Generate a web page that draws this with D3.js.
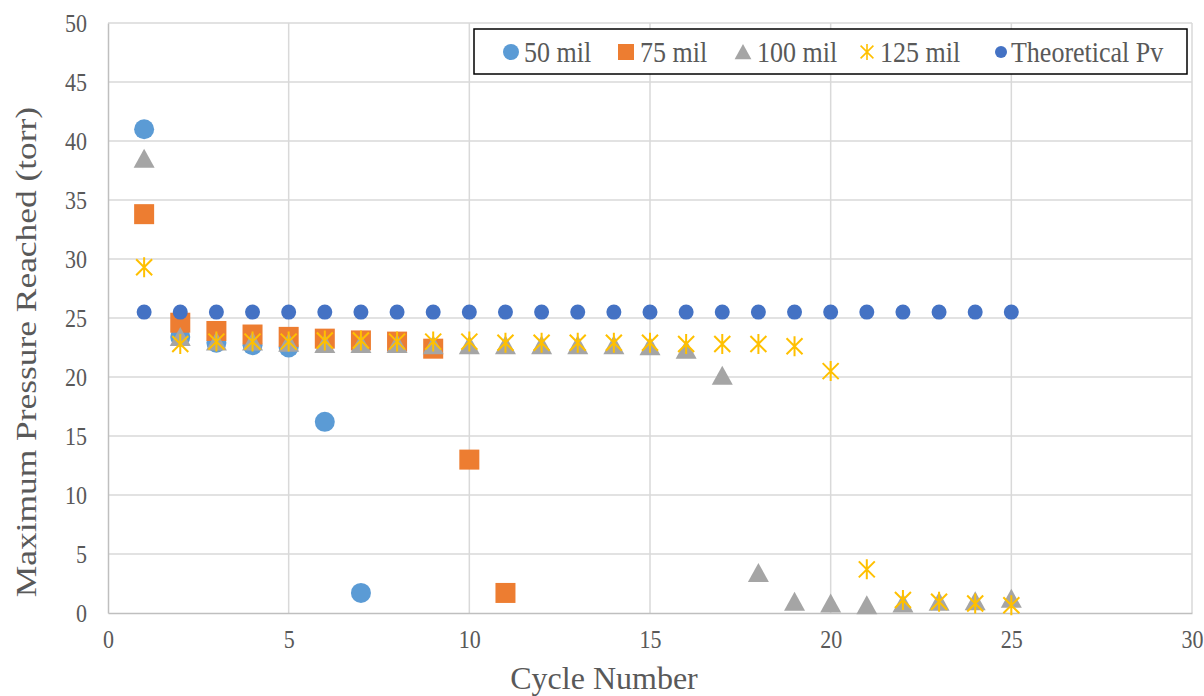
<!DOCTYPE html>
<html>
<head>
<meta charset="utf-8">
<script src="https://cdn.jsdelivr.net/npm/d3@7"></script>
<style>
  body { margin: 0; background: #fff; }
  text { font-family: "Liberation Serif", "Times New Roman", serif; }
</style>
</head>
<body>
<div class="chart"></div>
<script>
// data
var cycles = d3.range(1, 26);
var mil50 = [41.0, 23.4, 22.9, 22.7, 22.5, 16.2, 1.7];
var mil75 = [33.8, 24.6, 23.9, 23.6, 23.4, 23.25, 23.1, 23.0, 22.4, 13.0, 1.7];
var mil100 = [38.5, 23.4, 23.0, 23.0, 22.9, 22.8, 22.8, 22.8, 22.7, 22.7, 22.7, 22.7, 22.7, 22.7, 22.6, 22.3, 20.1,
  3.4, 0.95, 0.8, 0.65, 0.8, 0.95, 1.0, 1.2];
var mil125 = [29.3, 22.8, 23.0, 23.0, 23.0, 23.1, 23.1, 23.0, 23.0, 23.0, 22.9, 22.9, 22.9, 22.9, 22.9, 22.8, 22.8,
  22.8, 22.6, 20.5, 3.7, 1.1, 0.95, 0.8, 0.65];
var theoPv = cycles.map(function () { return 25.5; });

var xTicks = [0, 5, 10, 15, 20, 25, 30];
var yTicks = [0, 5, 10, 15, 20, 25, 30, 35, 40, 45, 50];

var series = [
  { name: "50 mil", values: mil50, color: "#5B9BD5", shape: "circle" },
  { name: "75 mil", values: mil75, color: "#ED7D31", shape: "square" },
  { name: "100 mil", values: mil100, color: "#A5A5A5", shape: "triangle" },
  { name: "125 mil", values: mil125, color: "#FFC000", shape: "star" },
  { name: "Theoretical Pv", values: theoPv, color: "#4472C4", shape: "dot" }
];

//Chart parameters
var svgWidth = 1204;
var svgHeight = 696;
var margin = { top: 23, right: 12, bottom: 83, left: 108 };
var width = svgWidth - margin.left - margin.right;
var height = svgHeight - margin.top - margin.bottom;

var svg = d3.select(".chart").append("svg")
  .attr("width", svgWidth)
  .attr("height", svgHeight);

var chartGroup = svg.append("g")
  .attr("transform", `translate(${margin.left}, ${margin.top})`);

var xScale = d3.scaleLinear().domain([0, 30]).range([0, width]);
var yScale = d3.scaleLinear().domain([0, 50]).range([height, 0]);

// gridlines
chartGroup.append("g").selectAll("line").data(yTicks.slice(1)).enter().append("line")
  .attr("x1", 0).attr("x2", width)
  .attr("y1", d => yScale(d)).attr("y2", d => yScale(d))
  .attr("stroke", "#D9D9D9").attr("stroke-width", 1.5);
chartGroup.append("g").selectAll("line").data(xTicks.slice(1)).enter().append("line")
  .attr("y1", 0).attr("y2", height)
  .attr("x1", d => xScale(d)).attr("x2", d => xScale(d))
  .attr("stroke", "#D9D9D9").attr("stroke-width", 1.5);

// axes
var bottomAxis = d3.axisBottom(xScale).tickValues(xTicks).tickSize(0).tickPadding(17);
var leftAxis = d3.axisLeft(yScale).tickValues(yTicks).tickSize(0).tickPadding(21);

var gx = chartGroup.append("g")
  .attr("transform", `translate(0, ${height})`)
  .call(bottomAxis);
var gy = chartGroup.append("g").call(leftAxis);

// the reference text looks a bit stretched vertically
[gx, gy].forEach(function (g) {
  g.select(".domain").attr("stroke", "#BFBFBF").attr("stroke-width", 1.5);
  g.selectAll("text")
    .attr("fill", "#595959")
    .attr("transform", "scale(1, 1.15)")
    .style("font-size", "22px")
    .style("font-family", "'Liberation Serif', serif");
});
gx.selectAll("text").attr("y", 15);

// markers
function drawMarker(g, shape, color) {
  if (shape === "circle") {
    g.append("circle").attr("r", 10).attr("fill", color);
  } else if (shape === "dot") {
    g.append("circle").attr("r", 7.5).attr("fill", color);
  } else if (shape === "square") {
    g.append("rect").attr("x", -10).attr("y", -10).attr("width", 20).attr("height", 20).attr("fill", color);
  } else if (shape === "triangle") {
    g.append("path").attr("d", "M0,-10L10.5,9L-10.5,9Z").attr("fill", color);
  } else if (shape === "star") {
    g.append("path").attr("d", "M-8,-8L8,8M-8,8L8,-8M0,-10L0,10")
      .attr("stroke", color).attr("stroke-width", 2).attr("fill", "none");
  }
}

series.forEach(function (s) {
  var pts = chartGroup.append("g").selectAll("g").data(s.values).enter().append("g")
    .attr("transform", (d, i) => `translate(${xScale(cycles[i])}, ${yScale(d)})`);
  pts.each(function () { drawMarker(d3.select(this), s.shape, s.color); });
});

// legend
var legend = svg.append("g");
legend.append("rect")
  .attr("x", 474).attr("y", 29).attr("width", 713).attr("height", 45)
  .attr("fill", "#fff").attr("stroke", "#000").attr("stroke-width", 1.5);
var legendX = [511, 626, 743, 867, 1001];
var legendTextX = [524, 640, 757, 880, 1011];
series.forEach(function (s, i) {
  var m = legend.append("g").attr("transform", `translate(${legendX[i]}, 52) scale(0.8)`);
  drawMarker(m, s.shape, s.color);
  legend.append("text")
    .attr("transform", `translate(${legendTextX[i]}, 62) scale(1, 1.15)`)
    .attr("fill", "#595959")
    .style("font-size", "26px")
    .text(s.name);
});

// axis titles
svg.append("text")
  .attr("x", 604).attr("y", 689)
  .attr("text-anchor", "middle")
  .attr("fill", "#595959")
  .style("font-size", "32px")
  .text("Cycle Number");

svg.append("text")
  .attr("transform", "translate(36, 352) rotate(-90) scale(1.18, 1)")
  .attr("text-anchor", "middle")
  .attr("fill", "#595959")
  .style("font-size", "30px")
  .text("Maximum Pressure Reached (torr)");
</script>
</body>
</html>
